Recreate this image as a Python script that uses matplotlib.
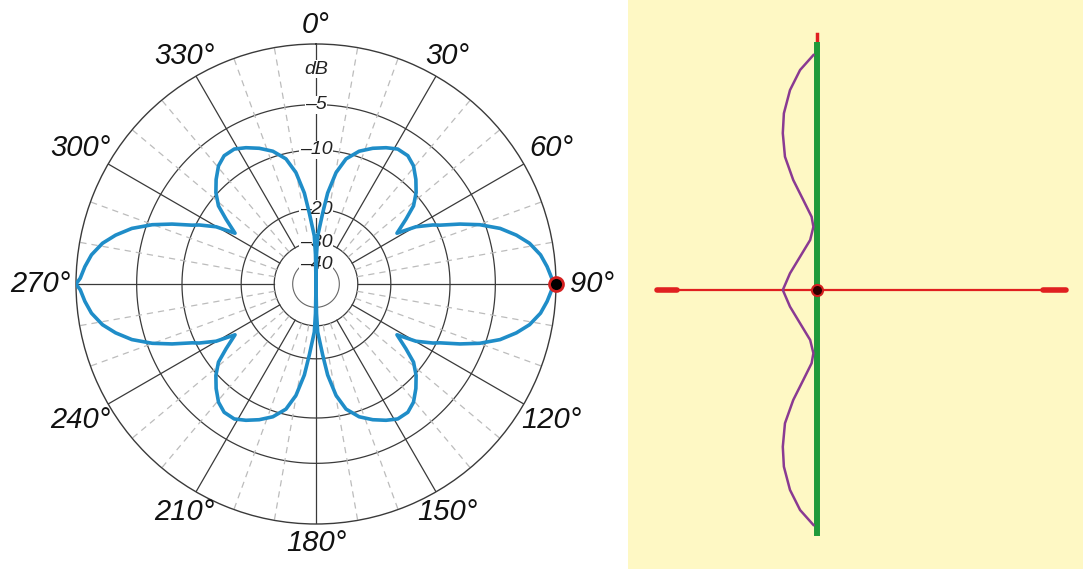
import numpy as np
import matplotlib.pyplot as plt

# radiation pattern, first quadrant (0 deg = up, clockwise)
angles_deg = [0, 1, 2, 5.4, 7.3, 10.2, 13.5, 18, 22.7, 27.2, 31.2, 35.6,
              39.5, 43.7, 47.6, 51.3, 54.3, 57.9, 60.2, 63.2, 64.6, 67.4,
              70.1, 73.2, 76.3, 79.2, 82.6, 85.7, 88.6, 90]
gain_db = [-100, -36, -27.6, -20.8, -16.5, -12.9, -10.7, -9.3, -8.4, -7.7,
           -7.2, -7.2, -7.7, -8.7, -9.8, -11.2, -13.3, -15.8, -12.6, -10.4,
           -9.6, -7.4, -5.5, -3.8, -2.6, -1.7, -1.0, -0.6, -0.3, 0]

ring_db = [-5, -10, -20, -30, -40]
ring_labels = ['–5', '–10', '–20', '–30', '–40']
angle_ticks = list(range(0, 360, 30))
angle_labels = [f'{a}°' for a in angle_ticks]

# current distribution along upper half of the dipole (height, relative current)
wire_h = [0.959, 0.898, 0.816, 0.721, 0.640, 0.544, 0.449, 0.367, 0.299,
          0.258, 0.204, 0.136, 0.068, 0.0]
wire_i = [0.10, 0.47, 0.75, 0.92, 0.95, 0.89, 0.66, 0.38, 0.15, 0.10, 0.19,
          0.47, 0.75, 0.95]

BLUE = '#1f8dc8'
GRID = '#3a3a3a'
DASH = '#bcbcbc'
YELLOW = '#fef8c4'
FONT = ['Liberation Sans', 'DejaVu Sans']


def arrl(db):
    # ARRL log scale: 0.89 of radius per 2 dB
    return 0.89 ** (-np.asarray(db, dtype=float) / 2)


fig = plt.figure(figsize=(10.83, 5.69), dpi=100)

# ---- polar diagram ----
ax = fig.add_axes([76 / 1083, 45 / 569, 480 / 1083, 480 / 569],
                  projection='polar')
ax.set_theta_zero_location('N')
ax.set_theta_direction(-1)
ax.set_ylim(0, 1)
ax.grid(False)
ax.set_xticks([])
ax.set_yticks([])
ax.spines['polar'].set_color(GRID)
ax.spines['polar'].set_linewidth(1.0)

full = np.linspace(0, 2 * np.pi, 721)
r_in = arrl(-30)
for db in ring_db:
    lw, col = (0.8, '#666666') if db == -40 else (0.9, GRID)
    ax.plot(full, np.full_like(full, arrl(db)), color=col, lw=lw, zorder=1)

for a in range(0, 360, 10):
    t = np.deg2rad(a)
    if a % 30 == 0:
        ax.plot([t, t], [r_in, 1], color=GRID, lw=0.9, zorder=1)
    else:
        ax.plot([t, t], [r_in, 1], color=DASH, lw=0.9,
                linestyle=(0, (5, 4)), zorder=1)

# mirror the quadrant into the full pattern
a = np.array(angles_deg)
g = np.array(gain_db)
theta = np.concatenate([a, 180 - a[::-1], 180 + a, 360 - a[::-1]])
gains = np.concatenate([g, g[::-1], g, g[::-1]])
ax.plot(np.deg2rad(theta), arrl(gains), color=BLUE, lw=2.6, zorder=3,
        solid_joinstyle='round')

ax.plot(np.deg2rad(90), 1, 'o', ms=10, mfc='black', mec='#d42020', mew=2,
        zorder=5, clip_on=False)

# ring labels on the 0 deg axis
ax.text(0, 0.895, 'dB', ha='center', va='center', fontsize=14,
        style='italic', family=FONT, color='#222222', zorder=2,
        bbox=dict(fc='white', ec='none', pad=0.5))
for db, lab in zip(ring_db, ring_labels):
    r = arrl(db) if db != -40 else 0.08
    ax.text(0, r, lab, ha='center', va='center', fontsize=14, style='italic',
            family=FONT, color='#222222', zorder=2,
            bbox=dict(fc='white', ec='none', pad=0.3))

for ang, lab in zip(angle_ticks, angle_labels):
    s = np.sin(np.deg2rad(ang))
    ax.text(np.deg2rad(ang), 1.08 + 0.07 * s * s, lab, ha='center',
            va='center', fontsize=21, style='italic', family=FONT,
            color='#111111', clip_on=False)

# ---- antenna sketch ----
ax2 = fig.add_axes([628 / 1083, 0, 455 / 1083, 1])
ax2.set_facecolor(YELLOW)
for sp in ax2.spines.values():
    sp.set_visible(False)
ax2.set_xticks([])
ax2.set_yticks([])
ax2.set_xlim(-189 / 245, 266 / 245)
ax2.set_ylim(-279 / 245, 290 / 245)

h = np.array(wire_h)
i = np.array(wire_i)
hh = np.concatenate([h, -h[::-1]])
ii = np.concatenate([i, i[::-1]])
amp = 36 / 245

ax2.plot([-0.653, 1.016], [0, 0], color='#e02020', lw=1.6, zorder=2)
ax2.plot([-0.653, -0.571], [0, 0], color='#e02020', lw=4,
         solid_capstyle='round', zorder=2)
ax2.plot([0.922, 1.016], [0, 0], color='#e02020', lw=4,
         solid_capstyle='round', zorder=2)
ax2.plot([0, 0], [1.0, 1.045], color='#e02020', lw=2.5, zorder=2)
ax2.plot([0, 0], [-0.99, 1.0], color='#1f9a3a', lw=4.3, zorder=3)
ax2.plot(-ii * amp, hh, color='#8a3a92', lw=1.8, zorder=4,
         solid_joinstyle='round')
ax2.plot(0, 0, 'o', ms=8, mfc='#300000', mec='#d42020', mew=1.5, zorder=5)

fig.savefig('out.png', dpi=100, facecolor='white')
